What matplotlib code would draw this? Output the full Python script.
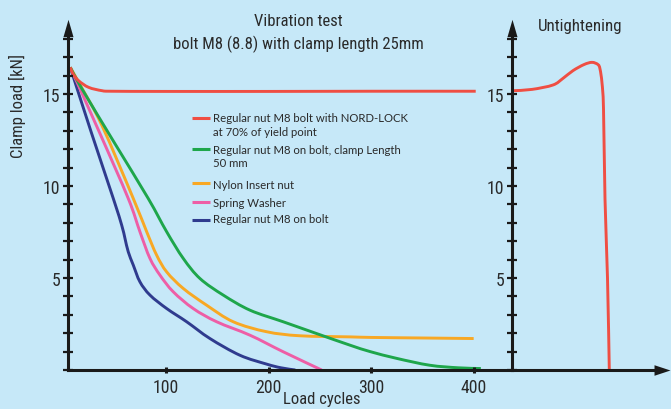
import matplotlib
matplotlib.use("Agg")
import numpy as np
import matplotlib.pyplot as plt
from matplotlib import font_manager
from matplotlib.font_manager import FontProperties
from matplotlib.ticker import MultipleLocator, FixedLocator
from matplotlib.path import Path
from matplotlib.patches import PathPatch

# ---- data -------------------------------------------------------------
cycles_nordlock = [6.4, 9.1, 14.6, 24.4, 37.4, 47.1, 100, 200, 300, 402]
load_nordlock = [16.45, 16.09, 15.72, 15.36, 15.18, 15.15, 15.14, 15.14, 15.15, 15.15]

cycles_clamp50 = [6.4, 17.9, 50, 82.5, 100.5, 116.7, 133.0, 155.7, 181.8, 214.2,
                  246.8, 279.3, 299, 325, 357, 385, 407]
load_clamp50 = [16.45, 15.27, 12.3, 9.32, 7.51, 6.06, 4.97, 4.07, 3.25, 2.62,
                1.98, 1.35, 1.0, 0.63, 0.26, 0.12, 0.08]

cycles_nylon = [6.4, 16.2, 37.4, 67.9, 81.0, 90.7, 100.5, 116.7, 139.5, 165.5,
                198.0, 230.5, 279.3, 300, 350, 400]
load_nylon = [16.45, 15.48, 13.28, 9.32, 7.51, 6.24, 5.33, 4.43, 3.52, 2.62,
              2.08, 1.86, 1.80, 1.77, 1.74, 1.71]

cycles_spring = [6.4, 35, 63.0, 74.4, 84.2, 94.0, 106.9, 126.4, 149.3, 181.8,
                 214.2, 251.7]
load_spring = [16.45, 12.9, 9.32, 7.51, 6.06, 5.15, 4.25, 3.34, 2.62, 1.89,
               0.99, 0.0]

cycles_regular = [6.4, 27, 48.4, 56.6, 59.8, 63.0, 67.9, 74.4, 84.2, 100.5,
                  120.0, 142.7, 172.0, 198.0, 212, 226]
load_regular = [16.45, 12.9, 9.32, 7.87, 7.15, 6.42, 5.70, 4.79, 4.07, 3.34,
                2.62, 1.71, 0.80, 0.32, 0.12, 0.0]

# untightening of the NORD-LOCK joint (time axis, arbitrary units)
t_untight = [1, 20, 41, 51, 61, 72, 80, 86, 88, 90, 91.5, 93, 95.5, 97.3]
load_untight = [15.18, 15.25, 15.49, 15.85, 16.27, 16.60, 16.72, 16.60, 16.36,
                15.6, 14.2, 9.3, 5.0, 0.0]

x_ticks = [100, 200, 300, 400]
y_ticks = [5, 10, 15]

labels = [
    ["Regular nut M8 bolt with NORD-LOCK", "at 70% of yield point"],
    ["Regular nut M8 on bolt, clamp Length", "50 mm"],
    ["Nylon Insert nut"],
    ["Spring Washer"],
    ["Regular nut M8 on bolt"],
]

# ---- fonts ------------------------------------------------------------
def find_narrow_font():
    fonts = font_manager.fontManager.ttflist
    prefs = ["Liberation Sans Narrow", "Arial Narrow", "Roboto Condensed",
             "Open Sans Condensed", "Noto Sans", "DejaVu Sans"]
    for name in prefs:
        for f in fonts:
            if f.name != name or f.style != "normal":
                continue
            if f.weight not in (400, "normal", "regular"):
                continue
            if "Narrow" in name or "Condensed" in name or f.stretch in (
                    "condensed", "semi-condensed", "extra-condensed"):
                return FontProperties(fname=f.fname), True
    return FontProperties(family="Liberation Sans"), False


narrow_fp, is_narrow = find_narrow_font()
available = {f.name for f in font_manager.fontManager.ttflist}
label_font = "Lato" if "Lato" in available else "DejaVu Sans"


def nfp(size):
    fp = narrow_fp.copy()
    fp.set_size(size if is_narrow else size * 0.88)
    return fp


# ---- style ------------------------------------------------------------
BG = "#c6e8f8"
RED = "#ef4e43"
GREEN = "#1ea64b"
ORANGE = "#f8a824"
PINK = "#ee5ea6"
BLUE = "#2f3b8e"
AX = "#1a1a1a"
TXT = "#2a2a2a"

W, H = 671, 410
fig = plt.figure(figsize=(W / 100, H / 100), dpi=100, facecolor=BG)

x0_px, x_split_px, x_end_px = 68, 512, 662
y_bottom_px, y_top_px = 371, 29
px_per_unit = 18.4
y_max = (y_bottom_px - y_top_px) / px_per_unit


def fig_rect(left_px, right_px):
    return [left_px / W, (H - y_bottom_px) / H,
            (right_px - left_px) / W, (y_bottom_px - y_top_px) / H]


ax = fig.add_axes(fig_rect(x0_px, x_split_px))
ax2 = fig.add_axes(fig_rect(x_split_px, x_end_px))

up_arrow = [(0, 1), (-0.58, -1), (0.58, -1), (0, 1)]
right_arrow = [(1, 0), (-1, -0.66), (-1, 0.66), (1, 0)]

for a in (ax, ax2):
    a.set_facecolor("none")
    a.set_ylim(0, y_max)
    for s in ("top", "right"):
        a.spines[s].set_visible(False)
    for s in ("left", "bottom"):
        a.spines[s].set_linewidth(2.2)
        a.spines[s].set_color(AX)
    a.yaxis.set_major_locator(FixedLocator(y_ticks))
    a.yaxis.set_minor_locator(MultipleLocator(1))
    a.tick_params(axis="y", which="both", direction="inout", length=7, width=1.6,
                  colors=AX, labelcolor=TXT, pad=2)
    a.plot([0], [1], marker=up_arrow, ms=12.5, color=AX, mew=0,
           transform=a.transAxes, clip_on=False)

ax.set_xlim(4.2, 437.4)
ax.xaxis.set_major_locator(FixedLocator(x_ticks))
ax.tick_params(axis="x", direction="inout", length=4, width=2.2, colors=AX,
               labelcolor=TXT, pad=4)

ax2.set_xlim(0, 150)
ax2.set_xticks([])
ax2.plot([1], [0], marker=right_arrow, ms=11.5, color=AX, mew=0,
         transform=ax2.transAxes, clip_on=False)

for a in (ax, ax2):
    for lab in a.get_xticklabels() + a.get_yticklabels():
        lab.set_fontproperties(nfp(12.8))


def smooth_curve(xs, ys):
    """Catmull-Rom curve through the measured points, as cubic Bezier segments."""
    p = np.column_stack([xs, ys]).astype(float)
    n = len(p)
    verts = [p[0]]
    codes = [Path.MOVETO]
    for i in range(n - 1):
        p0 = p[i - 1] if i > 0 else p[i]
        p1, p2 = p[i], p[i + 1]
        p3 = p[i + 2] if i + 2 < n else p[i + 1]
        verts += [p1 + (p2 - p0) / 6.0, p2 - (p3 - p1) / 6.0, p2]
        codes += [Path.CURVE4] * 3
    return Path(np.array(verts), codes)


def draw_series(a, xs, ys, color, lw=2.1):
    a.add_patch(PathPatch(smooth_curve(xs, ys), fill=False, edgecolor=color,
                          lw=lw, capstyle="butt", joinstyle="round",
                          clip_on=False))


series = [
    (cycles_nordlock, load_nordlock, RED),
    (cycles_clamp50, load_clamp50, GREEN),
    (cycles_nylon, load_nylon, ORANGE),
    (cycles_spring, load_spring, PINK),
    (cycles_regular, load_regular, BLUE),
]
for xs, ys, c in reversed(series):
    draw_series(ax, xs, ys, c)

draw_series(ax2, t_untight, load_untight, RED)

# legend drawn as handle segments with text beside them
handle_rows_px = [119, 150, 184, 203, 221]
text_rows_px = [[118, 132], [151, 164], [186], [204], [220]]
colors = [RED, GREEN, ORANGE, PINK, BLUE]


def fx(px):
    return (px - x0_px) / (x_split_px - x0_px)


def fy(py):
    return (y_bottom_px - py) / (y_bottom_px - y_top_px)


for hy, rows, lines, c in zip(handle_rows_px, text_rows_px, labels, colors):
    ax.plot([fx(192), fx(210)], [fy(hy), fy(hy)], color=c, lw=2.2,
            transform=ax.transAxes, solid_capstyle="butt")
    for ry, line in zip(rows, lines):
        ax.text(fx(213), fy(ry), line, transform=ax.transAxes, fontsize=8.2,
                family=[label_font, "DejaVu Sans"], color=TXT,
                ha="left", va="center")

title_fp = nfp(12.0)
fig.text(298 / W, 1 - 21 / H, "Vibration test", ha="center", va="center",
         fontproperties=title_fp, color=TXT)
fig.text(298 / W, 1 - 44 / H, "bolt M8 (8.8) with clamp length 25mm",
         ha="center", va="center", fontproperties=title_fp, color=TXT)
fig.text(580 / W, 1 - 27 / H, "Untightening", ha="center", va="center",
         fontproperties=nfp(12.2), color=TXT)
fig.text(17 / W, 1 - 106 / H, "Clamp load [kN]", ha="center", va="center",
         rotation=90, fontproperties=title_fp, color=TXT)
fig.text(322 / W, 1 - 400 / H, "Load cycles", ha="center", va="center",
         fontproperties=title_fp, color=TXT)

fig.savefig("out.png", dpi=100, facecolor=BG)
